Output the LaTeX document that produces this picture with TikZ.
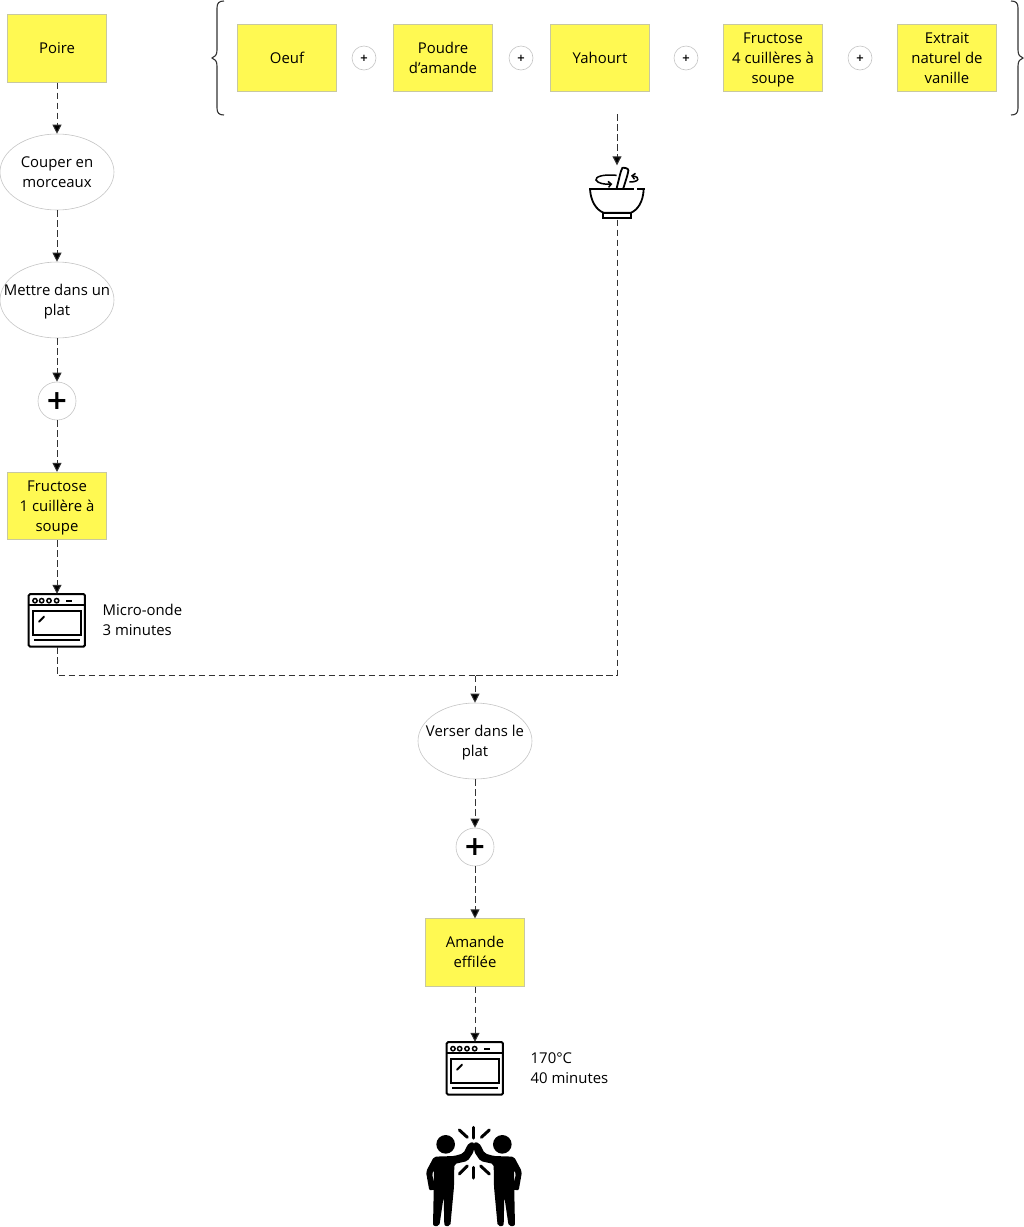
\documentclass[tikz,border=0pt]{standalone}
\usepackage{fontspec}
\setmainfont{Open Sans}
\newfontfamily\plusfont{DejaVu Sans}
\usetikzlibrary{arrows.meta,shapes.geometric}
\definecolor{stickyfill}{HTML}{FFF952}
\definecolor{stickyline}{HTML}{C8C8A0}
\definecolor{ringline}{HTML}{C4C4C4}
\definecolor{flowline}{HTML}{333333}
\newcommand{\ovenicon}[1]{%
  \begin{scope}[shift={(#1)},x=0.3333pt,y=-0.3333pt,line width=2pt,black]
    \draw[rounded corners=1.5pt] (86,72) rectangle (255,230);
    \draw (86,105) -- (255,105);
    \foreach \cx in {105,125,147,170} \draw[line width=1.5pt] (\cx,92) circle (6.5);
    \draw (199,92) -- (216,92);
    \draw (100,122) rectangle (242,195);
    \draw[line cap=round] (117,155) -- (132,140);
    \draw (102,210) -- (240,210);
  \end{scope}}
\newcommand{\persona}{%
  \fill (107,103) circle (28);
  \fill[rounded corners=2pt] (72,140) -- (133,138) -- (160,130) -- (176,99) -- (192,96) -- (192,124) -- (173,153) -- (133,162)
    -- (132,230) -- (121,348) -- (103,348) -- (101,260) -- (88,348) -- (69,348) -- (72,200) -- (71,180) -- (66,190) -- (76,238) -- (58,242) -- (48,185) -- cycle;}
\newcommand{\firstline}{\rule{0pt}{14pt}}
\newcommand{\lastline}{\rule[-4pt]{0pt}{4pt}}
\tikzset{
  x=1pt,y=-1pt,
  every node/.style={font=\fontsize{14.9}{20}\selectfont,align=center,text=black},
  lbl/.style={execute at end node=\lastline},
  sticky/.style={draw=stickyline,line width=0.6pt,fill=stickyfill,minimum width=99.5pt,minimum height=67.5pt,inner sep=0pt},
  action/.style={lbl,draw=ringline,line width=0.6pt,ellipse,minimum width=114pt,minimum height=76pt,inner ysep=0pt,inner xsep=-20pt},
  bigplus/.style={draw=ringline,line width=0.6pt,circle,minimum size=38pt,inner sep=0pt,font=\plusfont\bfseries\fontsize{27}{27}\selectfont,text=black},
  smallplus/.style={draw=ringline,line width=0.6pt,circle,minimum size=24pt,inner sep=0pt,font=\plusfont\bfseries\fontsize{10}{10}\selectfont,text=black},
  note/.style={lbl,align=left,anchor=west,inner sep=0pt},
  flow/.style={draw=flowline,line width=1pt,dash pattern=on 6.5pt off 3.5pt},
  flowa/.style={flow,-{Triangle[width=9pt,length=9pt,fill=black]}},
  curly/.style={draw=flowline,line width=1.1pt}
}
\begin{document}
\begin{tikzpicture}[x=1pt,y=-1pt]
\useasboundingbox (0,0) rectangle (1024,1227);
% left column
\node[sticky] (poire) at (57,48.5) {Poire};
\node[action] (couper) at (57,172) {\firstline Couper en\\morceaux};
\node[action] (mettre) at (57,300) {\firstline Mettre dans un\\plat};
\node[bigplus] (plusa) at (57,401) {+};
\node[sticky,lbl] (fructa) at (57,506) {\firstline Fructose\\1 cuillère à\\soupe};
\node[minimum width=58pt,minimum height=53pt,inner sep=0pt] (ovena) at (57,620.5) {};
\ovenicon{0,570}
\node[note] (micro) at (102.5,620.5) {\firstline Micro-onde\\3 minutes};
% top row
\node[sticky] (oeuf) at (287,58) {Oeuf};
\node[sticky,lbl] (poudre) at (443,58) {\firstline Poudre\\d’amande};
\node[sticky] (yahourt) at (600,58) {Yahourt};
\node[sticky,lbl] (fructb) at (773,58) {\firstline Fructose\\4 cuillères à\\soupe};
\node[sticky,lbl] (extrait) at (947,58) {\firstline Extrait\\naturel de\\vanille};
\node[smallplus] (p1) at (364,58) {+};
\node[smallplus] (p2) at (521,58) {+};
\node[smallplus] (p3) at (686,58) {+};
\node[smallplus] (p4) at (860,58) {+};
% braces
\draw[curly] (224,1) .. controls (219,1) and (217,3) .. (217,8) -- (217,50) .. controls (217,55) and (215,57) .. (212,58)
  .. controls (215,59) and (217,61) .. (217,66) -- (217,108) .. controls (217,113) and (219,115) .. (224,115);
\draw[curly] (1011,1) .. controls (1016,1) and (1018,3) .. (1018,8) -- (1018,50) .. controls (1018,55) and (1020,57) .. (1023,58)
  .. controls (1020,59) and (1018,61) .. (1018,66) -- (1018,108) .. controls (1018,113) and (1016,115) .. (1011,115);
% mortar
\coordinate (bracefoot) at (617,114);
\node[minimum width=56pt,minimum height=54pt,inner sep=0pt] (mortar) at (617,192.5) {};
\begin{scope}[shift={(560,100)},x=0.3333pt,y=-0.3333pt,line width=1.8pt,black]
  \draw (88,267) -- (222,267);
  \draw (232,267) -- (254,267);
  \draw (90,267) .. controls (92,305) and (110,330) .. (130,338) -- (213,338) .. controls (233,330) and (250,305) .. (251,267);
  \draw (128,338) rectangle (213,355);
  \draw[rounded corners=3pt] (170,265) -- (183,212) .. controls (188,202) and (206,204) .. (204,220) -- (190,265);
  \draw[line width=1.5pt,-{Straight Barb[length=3pt,width=6pt]}] (170,226) .. controls (130,222) and (105,230) .. (108,240) .. controls (112,250) and (135,254) .. (157,252);
  \draw[line width=1.5pt,-{Straight Barb[length=3pt,width=6pt]}] (208,246) .. controls (236,247) and (244,232) .. (213,227);
\end{scope}
% lower part
\node[action] (verser) at (475,741) {\firstline Verser dans le\\plat};
\node[bigplus] (plusb) at (475,847) {+};
\node[sticky,lbl] (amande) at (475,952.5) {\firstline Amande\\effilée};
\node[minimum width=58pt,minimum height=53pt,inner sep=0pt] (ovenb) at (475,1068.5) {};
\ovenicon{418,1018}
\node[note] (temp) at (530.5,1068.5) {\firstline 170°C\\40 minutes};
% high five
\begin{scope}[shift={(410,1110)},x=0.3333pt,y=-0.3333pt,black]
  \persona
  \begin{scope}[shift={(384,0)},xscale=-1]\persona\end{scope}
  \begin{scope}[line width=3pt,line cap=round]
  \draw (192,52) -- (192,84);
  \draw (148,60) -- (172,82);
  \draw (238,60) -- (214,82);
  \draw (192,172) -- (192,204);
  \draw (172,168) -- (148,192);
  \draw (212,168) -- (238,192);
  \end{scope}
\end{scope}
% connectors
\draw[flowa] (poire) -- (couper);
\draw[flowa] (couper) -- (mettre);
\draw[flowa] (mettre) -- (plusa);
\draw[flowa] (plusa) -- (fructa);
\draw[flowa] (fructa) -- (ovena);
\draw[flowa] (bracefoot) -- (mortar.north);
\coordinate (merge) at (475,675.5);
\draw[flow] (ovena.south) |- (merge);
\draw[flow] (mortar.south) |- (merge);
\draw[flowa] (merge) -- (verser);
\draw[flowa] (verser) -- (plusb);
\draw[flowa] (plusb) -- (amande);
\draw[flowa] (amande) -- (ovenb);
\end{tikzpicture}
\end{document}
